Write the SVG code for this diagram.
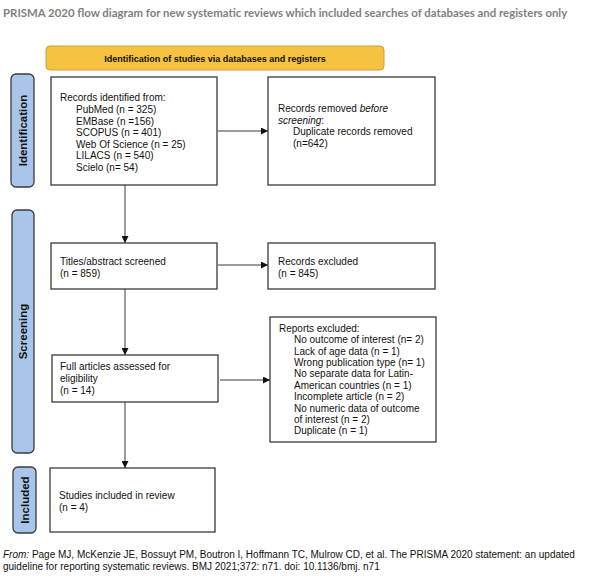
<svg xmlns="http://www.w3.org/2000/svg" width="589" height="581" viewBox="0 0 589 581">
<style>
.box{fill:#fff;stroke:#3a3a3a;stroke-width:1.3}
.side{fill:#a9c5e9;stroke:#3a3a3a;stroke-width:1.3}
.t{font-family:"Liberation Sans",Arial,sans-serif;font-size:10px;fill:#111}
.sl{font-family:"Liberation Sans",Arial,sans-serif;font-size:11.5px;font-weight:bold;fill:#111}
.ln{stroke:#3a3a3a;stroke-width:1;fill:none}
</style>
<defs>
<marker id="ah" viewBox="0 0 10 10" refX="10" refY="5" markerWidth="7" markerHeight="7" orient="auto" markerUnits="userSpaceOnUse">
<path d="M0,0 L10,5 L0,10 z" fill="#111"/>
</marker>
</defs>
<text x="3" y="16.5" font-family="Lato,'Liberation Sans',sans-serif" font-size="11.4" font-weight="bold" fill="#7f7f7f">PRISMA 2020 flow diagram for new systematic reviews which included searches of databases and registers only</text>

<g id="banner">
<rect x="46" y="46" width="338" height="24" rx="4" fill="#f5c242" stroke="#c9a13a" stroke-width="1"/>
<text x="215" y="61.5" font-family="'Liberation Sans',Arial,sans-serif" font-size="9px" font-weight="bold" fill="#111" text-anchor="middle">Identification of studies via databases and registers</text>
</g>

<g id="side-identification">
<rect class="side" x="11" y="74" width="23" height="113" rx="5"/>
<text class="sl" transform="translate(26.5,130.5) rotate(-90)" text-anchor="middle">Identification</text>
</g>
<g id="side-screening">
<rect class="side" x="12" y="210" width="22" height="243" rx="5"/>
<text class="sl" transform="translate(27,331.5) rotate(-90)" text-anchor="middle">Screening</text>
</g>
<g id="side-included">
<rect class="side" x="13" y="467" width="23" height="66" rx="5"/>
<text class="sl" transform="translate(28.5,500) rotate(-90)" text-anchor="middle">Included</text>
</g>

<g id="records-identified">
<rect class="box" x="51" y="77" width="166" height="108"/>
<text class="t" x="60" y="101">Records identified from:</text>
<text class="t" x="76" y="113">PubMed (n = 325)</text>
<text class="t" x="76" y="124.5">EMBase (n =156)</text>
<text class="t" x="76" y="136">SCOPUS (n = 401)</text>
<text class="t" x="76" y="147.5">Web Of Science (n = 25)</text>
<text class="t" x="76" y="159">LILACS (n = 540)</text>
<text class="t" x="76" y="170.5">Scielo (n= 54)</text>
</g>

<g id="records-removed">
<rect class="box" x="268" y="77" width="167" height="108"/>
<text class="t" x="278" y="112">Records removed <tspan font-style="italic">before</tspan></text>
<text class="t" x="278" y="123.5" font-style="italic">screening<tspan font-style="normal">:</tspan></text>
<text class="t" x="293" y="135">Duplicate records removed</text>
<text class="t" x="293" y="146.5">(n=642)</text>
</g>

<g id="titles-screened">
<rect class="box" x="51" y="243" width="166" height="46"/>
<text class="t" x="60" y="265">Titles/abstract screened</text>
<text class="t" x="60" y="277">(n = 859)</text>
</g>

<g id="records-excluded">
<rect class="box" x="268" y="243" width="167" height="46"/>
<text class="t" x="278" y="265">Records excluded</text>
<text class="t" x="278" y="277">(n = 845)</text>
</g>

<g id="full-articles">
<rect class="box" x="52" y="355" width="166" height="47"/>
<text class="t" x="60" y="370">Full articles assessed for</text>
<text class="t" x="60" y="382">eligibility</text>
<text class="t" x="60" y="394">(n = 14)</text>
</g>

<g id="reports-excluded">
<rect class="box" x="270" y="317" width="166" height="125"/>
<text class="t" x="279" y="331.5">Reports excluded:</text>
<text class="t" x="294" y="343">No outcome of interest (n= 2)</text>
<text class="t" x="294" y="354.5">Lack of age data (n = 1)</text>
<text class="t" x="294" y="366">Wrong publication type (n= 1)</text>
<text class="t" x="294" y="377">No separate data for Latin-</text>
<text class="t" x="294" y="388.5">American countries (n = 1)</text>
<text class="t" x="294" y="400">Incomplete article (n = 2)</text>
<text class="t" x="294" y="411.5">No numeric data of outcome</text>
<text class="t" x="294" y="423">of interest (n = 2)</text>
<text class="t" x="294" y="434">Duplicate (n = 1)</text>
</g>

<g id="studies-included">
<rect class="box" x="50" y="468" width="165" height="64"/>
<text class="t" x="59" y="498.5">Studies included in review</text>
<text class="t" x="59" y="511">(n = 4)</text>
</g>

<g id="connectors">
<line class="ln" x1="218" y1="131" x2="268" y2="131" marker-end="url(#ah)"/>
<line class="ln" x1="125" y1="185" x2="125" y2="243" marker-end="url(#ah)"/>
<line class="ln" x1="218" y1="265" x2="268" y2="265" marker-end="url(#ah)"/>
<line class="ln" x1="125" y1="289" x2="125" y2="355" marker-end="url(#ah)"/>
<line class="ln" x1="220" y1="380" x2="270" y2="380" marker-end="url(#ah)"/>
<line class="ln" x1="125" y1="402" x2="125" y2="468" marker-end="url(#ah)"/>
</g>

<g id="footer">
<text class="t" x="3" y="558" font-size="10.15"><tspan font-style="italic">From:</tspan>  Page MJ, McKenzie JE, Bossuyt PM, Boutron I, Hoffmann TC, Mulrow CD, et al. The PRISMA 2020 statement: an updated</text>
<text class="t" x="3" y="569.5" font-size="10.15">guideline for reporting systematic reviews. BMJ 2021;372: n71. doi: 10.1136/bmj. n71</text>
</g>
</svg>
